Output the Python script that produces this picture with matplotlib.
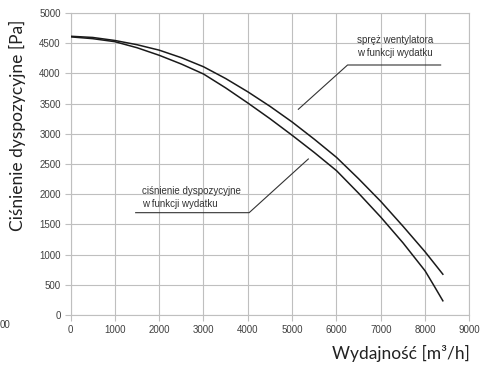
import matplotlib
matplotlib.use("Agg")
import matplotlib.pyplot as plt

flow = [0, 500, 1000, 1500, 2000, 2500, 3000, 3500, 4000, 4500, 5000,
        5500, 6000, 6500, 7000, 7500, 8000, 8200, 8400]
spreż = [4615, 4595, 4545, 4475, 4385, 4260, 4110, 3915, 3695, 3455, 3195,
         2910, 2610, 2255, 1880, 1470, 1045, 860, 675]
dyspozycyjne = [4605, 4575, 4525, 4425, 4300, 4155, 3990, 3760, 3510, 3250,
                2975, 2690, 2390, 2015, 1620, 1195, 730, 485, 235]

x_ticks = list(range(0, 9001, 1000))
y_ticks = list(range(0, 5001, 500))

TICK_FONT = ["Liberation Sans", "DejaVu Sans"]
NOTE_FONT = ["Liberation Sans Narrow", "Liberation Sans", "DejaVu Sans"]
LABEL_FONT = ["Lato", "DejaVu Sans"]
GRID = "#bfbfbf"

fig = plt.figure(figsize=(4.81, 3.65), dpi=100)
ax = fig.add_axes([0.1466, 0.137, 0.8294, 0.8274])

ax.plot(flow, spreż, color="#1a1a1a", lw=1.1, zorder=5)
ax.plot(flow, dyspozycyjne, color="#1a1a1a", lw=1.1, zorder=5)

ax.set_xlim(0, 9000)
ax.set_ylim(0, 5000)
ax.set_xticks(x_ticks)
ax.set_yticks(y_ticks)
ax.grid(color=GRID, lw=0.8)
for s in ax.spines.values():
    s.set_color(GRID)
    s.set_linewidth(0.8)
ax.tick_params(colors=GRID, length=4, width=0.8, labelcolor="#404040",
               labelsize=7, pad=3)
for lab in ax.get_xticklabels() + ax.get_yticklabels():
    lab.set_family(TICK_FONT)

# opisy krzywych z liniami odniesienia
ax.plot([8350, 6250, 5140], [4139, 4139, 3406], color="#333333", lw=0.8)
ax.text(6460, 4553, "spręż wentylatora", family=NOTE_FONT, fontsize=7,
        color="#333333", va="center")
ax.text(6460, 4333, "w funkcji wydatku", family=NOTE_FONT, fontsize=7,
        color="#333333", va="center")

ax.plot([1470, 4030, 5365], [1694, 1694, 2583], color="#333333", lw=0.8)
ax.text(1610, 2058, "ciśnienie dyspozycyjne", family=NOTE_FONT, fontsize=7,
        color="#333333", va="center")
ax.text(1610, 1833, "w funkcji wydatku", family=NOTE_FONT, fontsize=7,
        color="#333333", va="center")

fig.text(0.037, 0.658, "Ciśnienie dyspozycyjne [Pa]", family=LABEL_FONT,
         fontsize=12.5, color="#222222", rotation=90, ha="center", va="center")
fig.text(0.977, 1 - 353 / 365, "Wydajność [m³/h]", family=LABEL_FONT,
         fontsize=12.5, color="#222222", ha="right", va="center")
fig.text(0.0, 1 - 325 / 365, "00", family=TICK_FONT, fontsize=7,
         color="#404040", ha="left", va="center")

fig.savefig("out.png", dpi=100)
